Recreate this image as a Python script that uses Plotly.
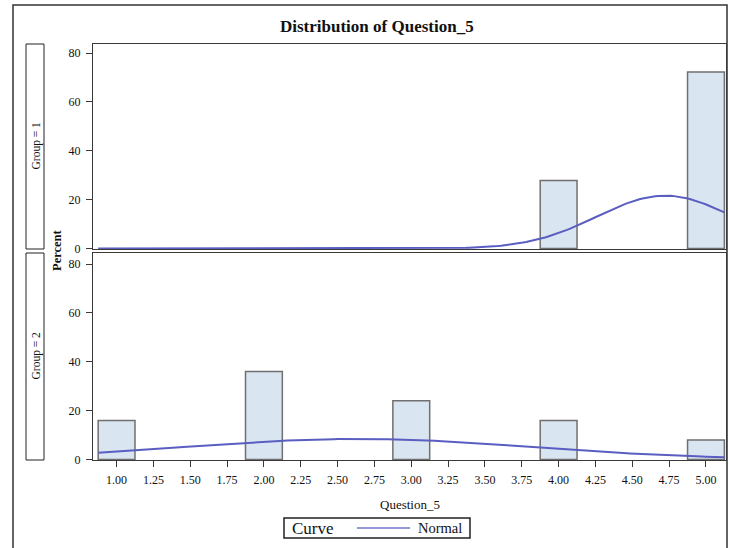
import numpy as np
import plotly.graph_objects as go

# ---- data ----
categories = [1, 2, 3, 4, 5]
group1_percent = [0, 0, 0, 27.8, 72.2]
group2_percent = [16, 36, 24, 16, 8]
group1_n = 18
group2_n = 25
tick_vals = [1.00, 1.25, 1.50, 1.75, 2.00, 2.25, 2.50, 2.75, 3.00, 3.25,
             3.50, 3.75, 4.00, 4.25, 4.50, 4.75, 5.00]
tick_text = ["%.2f" % v for v in tick_vals]
y_ticks = [0, 20, 40, 60, 80]
bin_width = 0.25

W, H = 729, 548
H_RENDER = 555
FONT = "Liberation Serif"
BAR_FILL = "#d9e5f1"
BAR_LINE = "#707070"
CURVE = "#5a5ec0"
AXIS = "#3a3a3a"
TXT = "#111111"


def normal_curve_n(cats, pct, n):
    """Fitted normal density (percent scale) from the histogram counts."""
    c = np.array(cats, float)
    w = np.array(pct, float) / 100 * n
    mean = (c * w).sum() / n
    var = (w * (c - mean) ** 2).sum() / (n - 1)
    sd = np.sqrt(var)
    xs = np.linspace(0.875, 5.125, 200)
    ys = 100 * bin_width * np.exp(-0.5 * ((xs - mean) / sd) ** 2) / (sd * np.sqrt(2 * np.pi))
    return xs, ys


def nonzero(cats, pct):
    pairs = [(c, v) for c, v in zip(cats, pct) if v > 0]
    return [p[0] for p in pairs], [p[1] for p in pairs]


x1, y1 = normal_curve_n(categories, group1_percent, group1_n)
x2, y2 = normal_curve_n(categories, group2_percent, group2_n)
b1x, b1y = nonzero(categories, group1_percent)
b2x, b2y = nonzero(categories, group2_percent)

fig = go.Figure()
fig.add_trace(go.Bar(x=b1x, y=b1y, width=bin_width,
                     marker=dict(color=BAR_FILL, line=dict(color=BAR_LINE, width=1.5)),
                     xaxis="x", yaxis="y", showlegend=False))
fig.add_trace(go.Scatter(x=x1, y=y1, mode="lines", line=dict(color=CURVE, width=2),
                         xaxis="x", yaxis="y", showlegend=False))
fig.add_trace(go.Bar(x=b2x, y=b2y, width=bin_width,
                     marker=dict(color=BAR_FILL, line=dict(color=BAR_LINE, width=1.5)),
                     xaxis="x2", yaxis="y2", showlegend=False))
fig.add_trace(go.Scatter(x=x2, y=y2, mode="lines", line=dict(color=CURVE, width=2),
                         xaxis="x2", yaxis="y2", name="Normal", showlegend=False))


def px(x):
    return x / W


def py(y):
    return 1 - y / H


xdom = [px(93), px(726)]
xr = [0.84, 5.136]
base = dict(showline=True, linecolor=AXIS, linewidth=1, mirror=True,
            showgrid=False, zeroline=False, tickcolor=AXIS,
            tickfont=dict(family=FONT, size=12, color=TXT))

fig.update_layout(
    width=W, height=H_RENDER, margin=dict(l=0, r=0, t=0, b=0),
    paper_bgcolor="white", plot_bgcolor="white", barmode="overlay",
    font=dict(family=FONT, color=TXT),
    xaxis=dict(domain=xdom, range=xr, anchor="y", showticklabels=False,
               tickvals=tick_vals, ticks="", **base),
    yaxis=dict(domain=[py(249), py(44)], range=[-0.2, 83.7], anchor="x",
               tickvals=y_ticks, ticks="outside", ticklen=6, ticklabelstandoff=3, **base),
    xaxis2=dict(domain=xdom, range=xr, anchor="y2", tickvals=tick_vals, ticktext=tick_text,
                ticks="outside", ticklen=6, ticklabelstandoff=3, **base),
    yaxis2=dict(domain=[py(460), py(253)], range=[-0.2, 84.5], anchor="x2",
                tickvals=y_ticks, ticks="outside", ticklen=6, ticklabelstandoff=3, **base),
    showlegend=False,
)

# outer frame (left, top, right)
fig.add_shape(type="path", xref="paper", yref="paper", layer="below",
              path=f"M {px(13)},{py(570)} L {px(13)},{py(5)} L {px(727)},{py(5)} L {px(727)},{py(570)}",
              line=dict(color="#333", width=1.5))
# strip boxes
for top, bot in [(44, 249), (253, 460)]:
    fig.add_shape(type="rect", xref="paper", yref="paper", layer="below",
                  x0=px(26), x1=px(44), y0=py(bot), y1=py(top),
                  line=dict(color="#222", width=1), fillcolor="white")

# legend box: "Curve  ——  Normal"
fig.add_shape(type="rect", xref="paper", yref="paper",
              x0=px(284), x1=px(470), y0=py(538), y1=py(518),
              line=dict(color="#222", width=1.5), fillcolor="white")
fig.add_shape(type="line", xref="paper", yref="paper",
              x0=px(357), x1=px(410), y0=py(528), y1=py(528),
              line=dict(color="#7276cc", width=1.5))

annotations = [
    dict(text="<b>Distribution of Question_5</b>", x=px(377), y=py(27),
         font=dict(family=FONT, size=17, color=TXT)),
    dict(text="Group = 1", x=px(35.5), y=py(146), textangle=-90,
         font=dict(family=FONT, size=11.5, color=TXT)),
    dict(text="Group = 2", x=px(35.5), y=py(356), textangle=-90,
         font=dict(family=FONT, size=11.5, color=TXT)),
    dict(text="<b>Percent</b>", x=px(57), y=py(250), textangle=-90,
         font=dict(family=FONT, size=12.5, color=TXT)),
    dict(text="Question_5", x=px(410), y=py(504),
         font=dict(family=FONT, size=13, color=TXT)),
    dict(text="Curve", x=px(290), y=py(528), xanchor="left",
         font=dict(family=FONT, size=17, color=TXT)),
    dict(text="Normal", x=px(440), y=py(528),
         font=dict(family=FONT, size=14.5, color=TXT)),
]
for a in annotations:
    a.setdefault("xanchor", "center")
    a.update(xref="paper", yref="paper", showarrow=False, yanchor="middle")
fig.update_layout(annotations=annotations)

fig.write_html("out.html", config={"displayModeBar": False},
               post_script="document.body.style.margin='0';document.body.style.overflow='hidden';")
